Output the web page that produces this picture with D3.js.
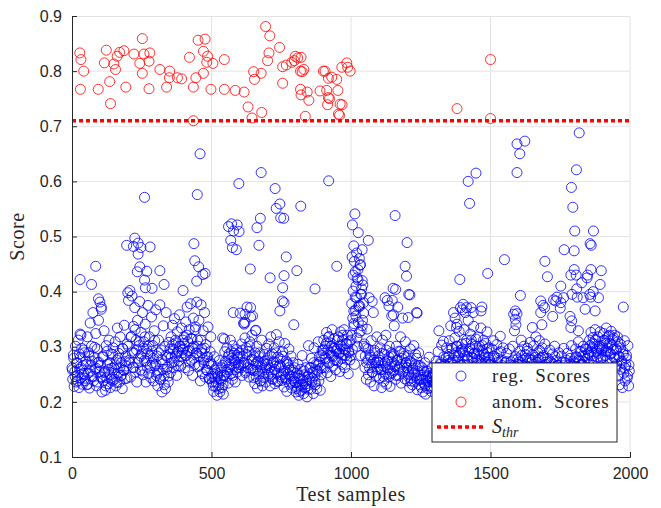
<!DOCTYPE html>
<html>
<head>
<meta charset="utf-8">
<script src="https://cdn.jsdelivr.net/npm/d3@7"></script>
<style>
  body { margin: 0; background: #fff; }
  .tick text { font-family: "Liberation Sans", Arial, sans-serif; font-size: 16px; fill: #262626; }
  .lbl { font-family: "Liberation Serif", "DejaVu Serif", serif; fill: #262626; white-space: pre; }
</style>
</head>
<body>
<div id="chart"></div>
<script>
// regular scores, one value every 2.5 samples (score x 1000)
const regBand = [
  262,241,285,228,255,301,236,270,248,312,226,259,281,243,297,232,266,251,289,238,
  274,231,318,252,289,225,343,267,301,246,362,238,281,259,324,229,296,271,348,255,
  381,246,368,218,283,239,329,255,221,302,244,268,233,312,249,226,287,261,238,298,
  262,241,309,229,276,334,252,288,236,318,247,271,224,296,258,339,242,283,265,305,
  398,384,271,402,245,318,392,263,337,289,371,254,312,236,348,279,302,382,258,326,
  287,362,249,309,275,341,236,296,263,375,251,318,283,244,354,271,302,238,329,265,
  367,248,283,229,312,256,376,241,294,218,269,338,247,301,224,362,259,281,236,308,
  287,253,318,271,339,296,262,351,283,307,248,327,292,274,358,301,265,334,289,312,
  296,318,262,345,284,372,309,257,331,293,378,276,314,248,352,301,268,336,289,381,
  312,264,348,282,238,376,296,251,329,271,362,245,304,281,257,336,269,242,291,318,
  268,236,251,219,282,243,228,262,212,247,231,275,218,254,239,226,266,214,248,291,
  274,246,298,259,234,287,268,312,251,279,241,302,263,288,236,271,295,254,281,262,
  289,361,267,305,248,283,343,271,316,256,298,372,262,291,245,309,354,276,321,258,
  257,282,233,268,246,301,225,274,251,289,238,263,312,229,271,244,286,258,236,297,
  276,248,305,262,229,318,254,287,241,271,298,233,265,322,252,281,238,309,267,245,
  263,239,291,252,227,306,244,274,219,268,251,296,232,258,283,225,247,271,238,262,
  235,218,252,227,268,212,243,231,259,221,284,238,215,249,226,262,233,209,246,302,
  241,262,223,279,236,254,215,298,247,231,268,224,256,309,238,272,221,249,284,262,
  288,312,262,301,279,326,253,294,318,271,307,246,284,331,265,298,276,315,258,292,
  296,274,318,289,255,327,301,268,312,285,331,262,294,306,277,321,251,289,309,283,
  312,378,295,401,342,268,436,356,389,301,421,372,326,448,284,395,338,412,361,305,
  262,298,241,332,276,249,389,285,236,311,268,254,362,229,293,271,247,318,259,283,
  271,243,298,258,226,312,265,237,286,251,321,232,274,259,245,301,228,268,289,253,
  282,256,338,267,241,301,275,372,248,292,263,318,234,279,352,256,288,242,309,271,
  262,238,284,251,226,296,243,271,231,258,302,236,267,248,279,222,255,289,241,266,
  241,226,262,218,249,233,271,214,238,256,224,247,281,229,243,219,262,236,251,227,
  252,236,274,229,262,291,245,228,268,251,303,238,259,282,233,266,247,298,241,275,
  282,311,256,338,271,297,249,362,284,316,263,301,341,275,252,328,289,371,266,305,
  296,268,331,284,362,251,312,277,348,292,259,323,371,281,304,246,337,288,265,314,
  287,262,318,275,301,249,334,271,293,256,312,281,243,306,268,327,289,254,298,276,
  268,242,296,257,311,236,282,263,248,304,271,231,289,255,319,244,276,262,298,238,
  252,271,231,288,245,262,224,296,248,273,236,259,301,228,266,243,282,253,235,278,
  268,247,292,259,312,238,276,254,301,243,286,265,232,297,261,278,249,308,271,256,
  276,251,302,264,236,318,272,247,289,258,311,241,279,263,298,233,284,256,305,268,
  258,241,279,263,236,294,251,272,244,287,229,262,301,248,275,238,266,253,289,245,
  262,238,283,251,226,297,244,271,234,258,288,229,266,249,279,236,302,255,242,274,
  271,252,296,238,281,263,309,246,274,257,291,235,268,301,249,283,262,243,295,258,
  289,268,312,284,326,258,298,317,273,305,331,264,292,281,318,256,301,327,276,294,
  302,281,324,267,311,292,334,276,298,319,259,306,287,328,272,313,295,281,321,264,
  296,268,318,247,282,231,305,259,274,226,291,252,311,238,267,284,243,302,229,256
];
const bandStep = 2.5;

// second pass over the band core, one value every 5 samples (score x 1000)
const regBandCore = [
  258,279,246,271,238,287,262,251,294,243,268,232,283,256,274,247,299,261,236,272,
  266,244,281,253,229,292,259,271,241,286,252,267,235,279,262,248,297,257,273,243,
  301,276,318,289,262,331,294,271,309,283,256,297,318,274,288,302,266,292,279,311,
  268,252,289,241,276,259,231,284,263,247,296,281,304,273,312,289,265,301,283,294,
  306,284,321,292,272,315,298,279,331,288,301,266,312,289,276,297,258,282,243,271,
  246,229,258,236,251,224,242,262,231,248,271,254,283,263,291,248,276,259,284,268,
  281,262,294,271,253,286,268,301,259,277,244,289,271,256,282,238,267,251,274,262,
  268,251,284,242,273,259,289,237,264,278,249,283,256,241,271,262,247,236,258,244,
  236,224,248,219,241,231,256,227,238,223,251,262,243,271,236,258,267,282,261,293,
  294,281,306,272,318,289,301,283,297,276,312,288,303,279,321,296,284,305,291,276,
  321,352,338,366,316,344,374,329,348,301,283,271,296,262,281,254,276,289,263,272,
  276,259,288,246,271,294,262,281,251,273,287,264,248,276,259,291,268,254,283,271,
  262,249,274,238,261,252,286,243,266,231,248,241,256,229,244,237,252,226,246,238,
  251,238,263,246,271,256,242,268,279,258,286,271,297,276,262,289,301,282,268,294,
  291,274,306,283,268,297,312,279,288,301,276,294,283,268,302,287,273,296,281,267,
  271,254,283,262,246,279,258,291,266,248,261,273,244,258,267,251,276,262,247,269,
  272,258,284,266,251,279,292,263,276,259,286,268,281,254,277,293,264,281,258,272,
  263,249,274,257,241,268,282,253,266,247,261,272,244,259,276,251,268,256,243,265,
  269,282,258,276,291,268,283,272,296,279,287,302,291,306,284,312,296,288,301,279,
  298,312,284,306,291,321,287,302,316,279,294,309,283,298,271,286,262,279,248,267
];
const coreStep = 5;

// regular scores above the band: [sample, score]
const regHigh = [
  [29,.422],[70,.413],[85,.446],[29,.323],[32,.321],[95,.387],[105,.372],
  [196,.484],[225,.497],[237,.488],[220,.482],[247,.48],[280,.481],[237,.468],[243,.445],[234,.436],
  [260,.421],[263,.407],[287,.406],[268,.437],[260,.571],[315,.438],[330,.413],[398,.402],
  [437,.487],[440,.456],[454,.445],[469,.431],[447,.419],[449,.576],[459,.65],[477,.433],
  [546,.314],[540,.316],[561,.518],[572,.523],[579,.51],[569,.493],[575,.48],[589,.476],[598,.596],
  [592,.521],[599,.509],[578,.362],[620,.359],[640,.371],[647,.356],[659,.33],[620,.344],[617,.341],
  [639,.441],[658,.329],[663,.516],[675,.533],[670,.484],[678,.616],
  [710,.425],[728,.587],[745,.559],[732,.551],[748,.534],[759,.533],[760,.429],[768,.463],[755,.407],
  [754,.383],[760,.38],[745,.365],[795,.34],[806,.438],[820,.555],[871,.405],[920,.601],[949,.446],
  [1004,.463],[1012,.455],[1020,.47],[1030,.46],[1034,.449],[1008,.43],[1025,.44],[1040,.42],[1018,.41],
  [1035,.395],[1045,.38],[1015,.39],[1028,.375],[1010,.365],[1022,.425],[1038,.405],
  [1014,.541],[1005,.521],[1026,.507],[1010,.483],[1062,.493],[1040,.476],[1076,.382],
  [1122,.389],[1130,.384],[1136,.374],[1148,.384],[1151,.406],[1146,.356],[1152,.358],[1158,.538],
  [1160,.404],[1194,.446],[1199,.428],[1201,.489],[1207,.395],[1211,.394],[1235,.362],[1205,.353],[1237,.361],
  [1315,.329],[1331,.31],[1373,.352],[1378,.335],[1390,.422],[1399,.367],[1402,.377],[1414,.371],
  [1420,.6],[1425,.56],[1448,.615],[1438,.362],[1466,.365],[1469,.372],[1490,.433],
  [1550,.458],[1583,.359],[1589,.35],[1586,.329],[1589,.365],[1595,.36],[1591,.34],[1595,.616],
  [1595,.668],[1623,.673],[1605,.65],[1607,.393],
  [1650,.335],[1680,.383],[1694,.371],[1680,.362],[1684,.34],[1688,.375],[1695,.455],[1704,.427],
  [1726,.385],[1723,.355],[1734,.383],[1738,.39],[1752,.41],[1750,.37],[1752,.38],[1762,.389],
  [1764,.476],[1785,.355],[1788,.335],[1788,.43],[1790,.589],[1791,.347],[1792,.395],[1795,.553],
  [1800,.44],[1800,.474],[1802,.51],[1807,.43],[1809,.405],[1811,.39],[1815,.329],[1808,.621],
  [1818,.688],[1827,.416],[1832,.389],[1839,.368],[1846,.425],[1848,.43],[1856,.395],[1857,.487],
  [1859,.39],[1860,.44],[1861,.484],[1868,.4],[1869,.51],[1875,.365],[1887,.389],[1893,.413],
  [1897,.438],[1976,.372]
];

// anomaly scores: [sample, score]
const anomScores = [
  [28,.833],[32,.821],[42,.80],[30,.767],[94,.767],[123,.838],[116,.815],[150,.813],[156,.803],
  [162,.827],[171,.834],[186,.837],[135,.781],[138,.741],[193,.771],[222,.831],[252,.859],
  [243,.814],[252,.796],[258,.831],[279,.833],[276,.818],[276,.768],[315,.803],[339,.771],
  [350,.80],[349,.788],[378,.788],[393,.786],[421,.825],[435,.771],[444,.788],[435,.71],
  [471,.796],[452,.856],[477,.858],[471,.836],[486,.827],[483,.816],[505,.814],[498,.767],
  [546,.821],[546,.767],[585,.765],[617,.762],[631,.735],[645,.715],[680,.725],[651,.799],
  [654,.785],[678,.796],[694,.881],[709,.864],[701,.819],[706,.833],[744,.843],[755,.808],
  [755,.778],[768,.811],[788,.816],[800,.827],[809,.824],[821,.825],[797,.819],[819,.80],
  [825,.799],[831,.803],[819,.767],[821,.757],[843,.762],[849,.747],[836,.718],[889,.764],
  [901,.80],[907,.80],[919,.787],[931,.789],[949,.785],[953,.765],[913,.765],[919,.752],
  [916,.739],[961,.74],[955,.722],[959,.72],[967,.807],[985,.815],[997,.80],[988,.807],
  [968,.739],[923,.75],[1380,.732],[1500,.821],[1500,.714]
];

const threshold = 0.71;
const xTicks = [0, 500, 1000, 1500, 2000];
const yTicks = [0.1, 0.2, 0.3, 0.4, 0.5, 0.6, 0.7, 0.8, 0.9];

const width = 661, height = 508;
const margin = {top: 16, right: 31, bottom: 51, left: 72};
const iw = width - margin.left - margin.right;
const ih = height - margin.top - margin.bottom;

const svg = d3.select('#chart').append('svg')
  .attr('width', width).attr('height', height);
const g = svg.append('g').attr('transform', `translate(${margin.left},${margin.top})`);

const x = d3.scaleLinear().domain([0, 2000]).range([0, iw]);
const y = d3.scaleLinear().domain([0.1, 0.9]).range([ih, 0]);

// grid
g.append('g').selectAll('line').data(xTicks.slice(1, -1)).join('line')
  .attr('x1', d => x(d)).attr('x2', d => x(d)).attr('y1', 0).attr('y2', ih)
  .attr('stroke', '#e3e3e3').attr('stroke-width', 1);
g.append('g').selectAll('line').data(yTicks.slice(1, -1)).join('line')
  .attr('x1', 0).attr('x2', iw).attr('y1', d => y(d)).attr('y2', d => y(d))
  .attr('stroke', '#e3e3e3').attr('stroke-width', 1);
// light box on top / right
g.append('path').attr('d', `M0,0.5H${iw}V${ih}`)
  .attr('fill', 'none').attr('stroke', '#e3e3e3');

const reg = regBand.map((v, i) => [i * bandStep, v / 1000])
  .concat(regBandCore.map((v, i) => [1.25 + i * coreStep, v / 1000]))
  .concat(regHigh);

g.append('g').selectAll('circle').data(reg).join('circle')
  .attr('cx', d => x(d[0])).attr('cy', d => y(d[1])).attr('r', 5)
  .attr('fill', 'none').attr('stroke', '#0000ff').attr('stroke-opacity', 0.8).attr('stroke-width', 1);

g.append('g').selectAll('circle').data(anomScores).join('circle')
  .attr('cx', d => x(d[0])).attr('cy', d => y(d[1])).attr('r', 5)
  .attr('fill', 'none').attr('stroke', '#ff0000').attr('stroke-opacity', 0.8).attr('stroke-width', 1);

g.append('line')
  .attr('x1', 0).attr('x2', iw).attr('y1', y(threshold)).attr('y2', y(threshold))
  .attr('stroke', '#ff0000').attr('stroke-width', 3.5).attr('stroke-dasharray', '4,3');

// axes, ticks inside
const xAxis = g.append('g').attr('transform', `translate(0,${ih})`)
  .call(d3.axisBottom(x).tickValues(xTicks).tickSize(-5).tickPadding(11).tickFormat(d3.format('d')));
const yAxis = g.append('g')
  .call(d3.axisLeft(y).tickValues(yTicks).tickSize(-5).tickPadding(10).tickFormat(d3.format('.1f')));
[xAxis, yAxis].forEach(a => {
  a.select('.domain').attr('stroke', '#262626');
  a.selectAll('.tick line').attr('stroke', '#262626');
});

svg.append('text').attr('class', 'lbl')
  .attr('x', margin.left + iw / 2).attr('y', 501)
  .attr('text-anchor', 'middle').attr('font-size', 20).attr('letter-spacing', 0.6).text('Test samples');
svg.append('text').attr('class', 'lbl')
  .attr('transform', `translate(24,${margin.top + ih / 2}) rotate(-90)`)
  .attr('text-anchor', 'middle').attr('font-size', 20).attr('letter-spacing', 0.6).text('Score');

// legend
const lg = svg.append('g').attr('transform', 'translate(432,363)');
lg.append('rect').attr('width', 185).attr('height', 79)
  .attr('fill', '#fff').attr('stroke', '#262626').attr('stroke-width', 1);
lg.append('circle').attr('cx', 29).attr('cy', 13).attr('r', 5)
  .attr('fill', 'none').attr('stroke', '#0000ff').attr('stroke-opacity', 0.8);
lg.append('circle').attr('cx', 29).attr('cy', 39).attr('r', 5)
  .attr('fill', 'none').attr('stroke', '#ff0000').attr('stroke-opacity', 0.8);
lg.append('line').attr('x1', 5).attr('x2', 53).attr('y1', 64).attr('y2', 64)
  .attr('stroke', '#ff0000').attr('stroke-width', 3.5).attr('stroke-dasharray', '4,3');
lg.append('text').attr('class', 'lbl').attr('x', 60).attr('y', 19).attr('font-size', 19)
  .attr('letter-spacing', 0.8).text('reg.  Scores');
lg.append('text').attr('class', 'lbl').attr('x', 60).attr('y', 45).attr('font-size', 19)
  .attr('letter-spacing', 0.8).text('anom.  Scores');
const st = lg.append('text').attr('class', 'lbl').attr('x', 60).attr('y', 70).attr('font-size', 20).attr('font-style', 'italic');
st.append('tspan').text('S');
st.append('tspan').attr('font-size', 14).attr('dy', 4).text('thr');
</script>
</body>
</html>
